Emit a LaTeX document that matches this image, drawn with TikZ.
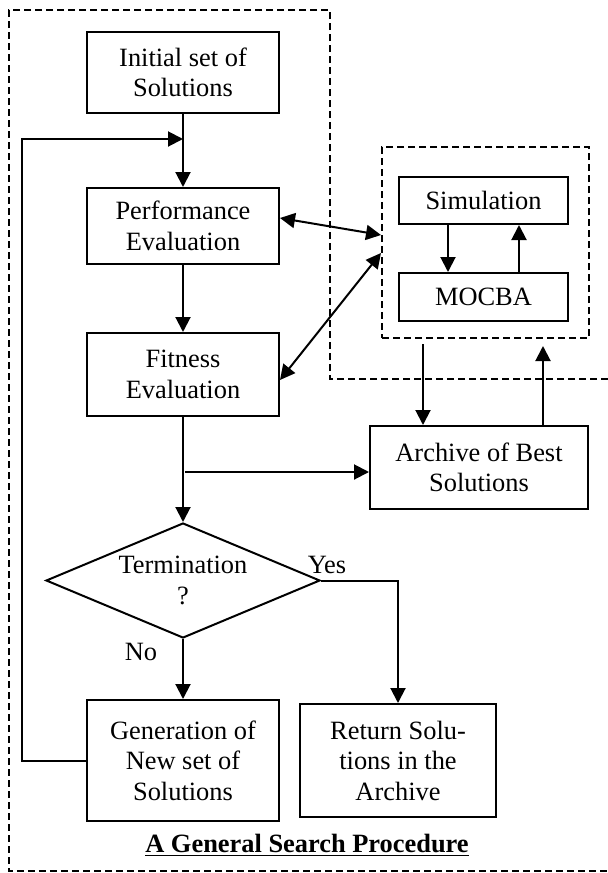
\documentclass[tikz,border=0pt]{standalone}
\usepackage{fontspec}
\setmainfont{Liberation Serif}
\usetikzlibrary{shapes.geometric,arrows.meta}

\begin{document}
\begin{tikzpicture}[x=0.5pt,y=-0.5pt,
  font=\fontsize{13.2}{15.25}\selectfont,
  line width=1pt,
  box/.style={draw,rectangle,align=center,inner sep=2pt},
  decision/.style={draw,diamond,align=center,aspect=2.4,inner sep=0pt,minimum width=137pt,minimum height=57.5pt},
  group/.style={draw,dash pattern=on 3.5pt off 2pt,minimum width=103.5pt,minimum height=95.5pt,inner sep=0pt},
  frame/.style={dash pattern=on 3.5pt off 2pt},
  arr/.style={-{Triangle[length=7.5pt,width=7.5pt]}},
  dblarr/.style={{Triangle[length=7.5pt,width=7.5pt]}-{Triangle[length=7.5pt,width=7.5pt]}}]
\useasboundingbox (0,0) rectangle (608,873);

% Outer frame
\draw[frame] (608,379) -- (330,379) -- (330,10) -- (9,10) -- (9,871) -- (608,871);

% Search procedure
\node[box,minimum width=96pt,minimum height=40.5pt] (init) at (183,72.5) {Initial set of\\Solutions};
\node[box,minimum width=96pt,minimum height=38pt] (perf) at (183,226) {Performance\\Evaluation};
\node[box,minimum width=96pt,minimum height=41.5pt] (fit) at (183,374.5) {Fitness\\Evaluation};
\node[decision] (term) at (183,580.5) {Termination\\?};
\node[box,minimum width=96pt,minimum height=60.5pt] (gen) at (183,760.5) {Generation of\\New set of\\Solutions};
\node[box,minimum width=98pt,minimum height=56.5pt] (ret) at (398,760.5) {Return Solu-\\tions in the\\Archive};

% Simulation block
\node[group] (simgroup) at (485.5,242.5) {};
\node[box,minimum width=84.5pt,minimum height=23.5pt] (sim) at (483.5,200.5) {Simulation};
\node[box,minimum width=84.5pt,minimum height=24pt] (mocba) at (483.5,297) {MOCBA};
\node[box,minimum width=109pt,minimum height=41.5pt] (archive) at (479,467.5) {Archive of Best\\Solutions};

% Labels
\node (yes) at (327,565) {Yes};
\node (no) at (141,652) {No};
\node[anchor=base] (title) at (307,852) {\bfseries\underline{A General Search Procedure}};

% Main flow
\coordinate (loop) at (22,139);
\coordinate (branch) at (185,472);
\draw[arr] (init) -- (perf);
\draw[arr] (perf) -- (fit);
\draw[arr] (fit) -- (term);
\draw[arr] (term) -- (gen);
\draw[arr] (term.east) -| (ret.north);
\draw[arr] (gen.west) -| (loop) -- (loop -| init.south);
\draw[arr] (branch) -- (branch -| archive.west);

% Links to the simulation block
\draw[dblarr] ([yshift=4pt]perf.east) -- ([yshift=3.75pt]simgroup.west);
\draw[dblarr] ([yshift=-2.75pt]fit.east) -- ([yshift=-5.25pt]simgroup.west);
\draw[arr] ([xshift=-17.75pt]sim.south) -- ([xshift=-17.75pt]mocba.north);
\draw[arr] ([xshift=17.75pt]mocba.north) -- ([xshift=17.75pt]sim.south);
\draw[arr] ([xshift=-31.25pt,yshift=-2.5pt]simgroup.south) -- ([xshift=-28pt]archive.north);
\draw[arr] ([xshift=32pt]archive.north) -- ([xshift=28.75pt,yshift=-3.5pt]simgroup.south);
\end{tikzpicture}
\end{document}
